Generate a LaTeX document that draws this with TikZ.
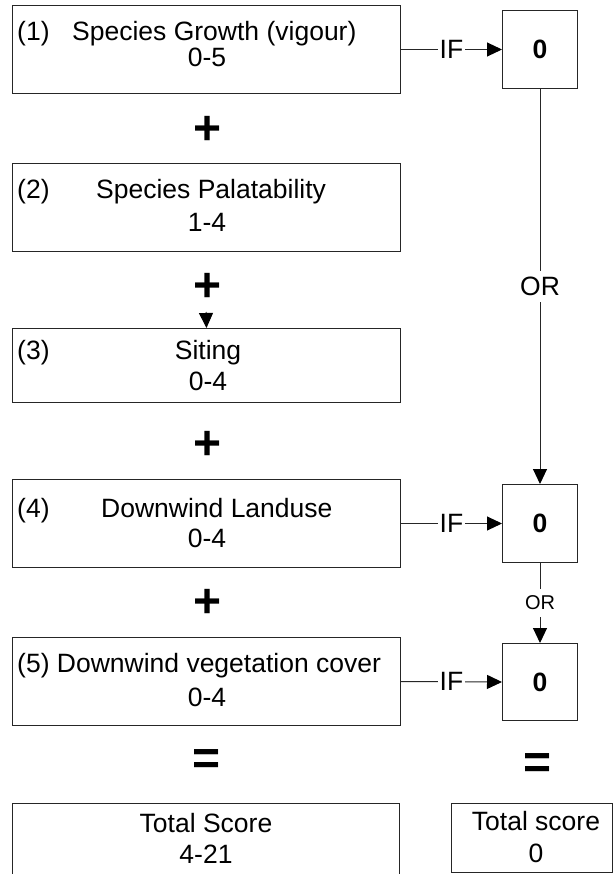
\documentclass[tikz,border=0pt]{standalone}
\usepackage{fontspec}
\setmainfont{Liberation Sans}
\usetikzlibrary{arrows.meta}
\begin{document}
\begin{tikzpicture}[x=1pt,y=-1pt,
  box/.style={draw=black!85, line width=1pt, rectangle, inner sep=0pt, anchor=north west},
  zero/.style={font=\fontsize{26.5}{30}\selectfont\bfseries},
  txt/.style={inner sep=0pt, anchor=base, font=\fontsize{26.5}{30}\selectfont},
  txtl/.style={txt, anchor=base west},
  op/.style={inner sep=0pt, font=\fontsize{48}{50}\selectfont\bfseries},
  conn/.style={draw=black!85, line width=1pt},
  tip/.style={-{Triangle[length=15pt,width=14pt,color=black]}},
  iflab/.style={fill=white, inner xsep=1.5pt, inner ysep=1pt, font=\fontsize{26.5}{30}\selectfont},
  orlab/.style={fill=white, inner xsep=1pt, inner ysep=6pt, font=\fontsize{26.5}{30}\selectfont},
  orsmall/.style={fill=white, inner xsep=1pt, inner ysep=6.5pt, font=\fontsize{20}{24}\selectfont}
]
\useasboundingbox (0,0) rectangle (613,874);
\clip (0,0) rectangle (613,874);

% left boxes
\node[box, minimum width=388pt, minimum height=88pt] (b1) at (12,5) {};
\node[box, minimum width=388pt, minimum height=88pt] (b2) at (12,163) {};
\node[box, minimum width=388pt, minimum height=74pt] (b3) at (12,328) {};
\node[box, minimum width=388pt, minimum height=88pt] (b4) at (12,479) {};
\node[box, minimum width=388pt, minimum height=88pt] (b5) at (12,637) {};
\node[box, minimum width=387pt, minimum height=100pt] (bt) at (12,803) {};

% right boxes
\node[box, zero, minimum width=75pt, minimum height=78pt] (r1) at (502,10) {0};
\node[box, zero, minimum width=75pt, minimum height=78pt] (r2) at (502,484) {0};
\node[box, zero, minimum width=75pt, minimum height=77pt] (r3) at (502,643) {0};
\node[box, minimum width=161pt, minimum height=69pt] (rt) at (451,803) {};

% texts
\node[txtl] (t1a) at (17,41) {(1)};
\node[txtl] (t1b) at (72,41) {Species Growth (vigour)};
\node[txt] (t1c) at (207,67) {0-5};

\node[txtl] (t2a) at (17,199) {(2)};
\node[txtl] (t2b) at (96,199) {Species Palatability};
\node[txt] (t2c) at (207,232) {1-4};

\node[txtl] (t3a) at (17,359) {(3)};
\node[txt] (t3b) at (208,359) {Siting};
\node[txt] (t3c) at (208,390) {0-4};

\node[txtl] (t4a) at (17,517) {(4)};
\node[txtl] (t4b) at (101,517) {Downwind Landuse};
\node[txt] (t4c) at (207,547) {0-4};

\node[txtl] (t5a) at (17,672) {(5) Downwind vegetation cover};
\node[txt] (t5c) at (207,706) {0-4};

\node[txt] (tta) at (206,832) {Total Score};
\node[txt] (ttb) at (206,863) {4-21};

\node[txt] (rta) at (536,830) {Total score};
\node[txt] (rtb) at (536,862) {0};

% operators
\node[op] (p1) at (208,130) {+};
\node[op] (p2) at (208,287) {+};
\node[op] (p3) at (208,445) {+};
\node[op] (p4) at (208,603) {+};
\node[op] (e1) at (207,762) {=};
\node[op] (e2) at (538,766) {=};

% connectors
\draw[conn, tip] (b1.east) -- node[iflab] {IF} (r1.west);
\draw[conn, tip] (b4.east) -- node[iflab] {IF} (r2.west);
\draw[conn, tip] (b5.east) -- node[iflab] {IF} (r3.west);
\draw[conn, tip] (r1.south) -- node[orlab] {OR} (r2.north);
\draw[conn, tip] (r2.south) -- node[orsmall] {OR} (r3.north);
\coordinate (a3) at (206,312);
\draw[conn, tip] (a3) -- (b3.north);
\end{tikzpicture}
\end{document}
